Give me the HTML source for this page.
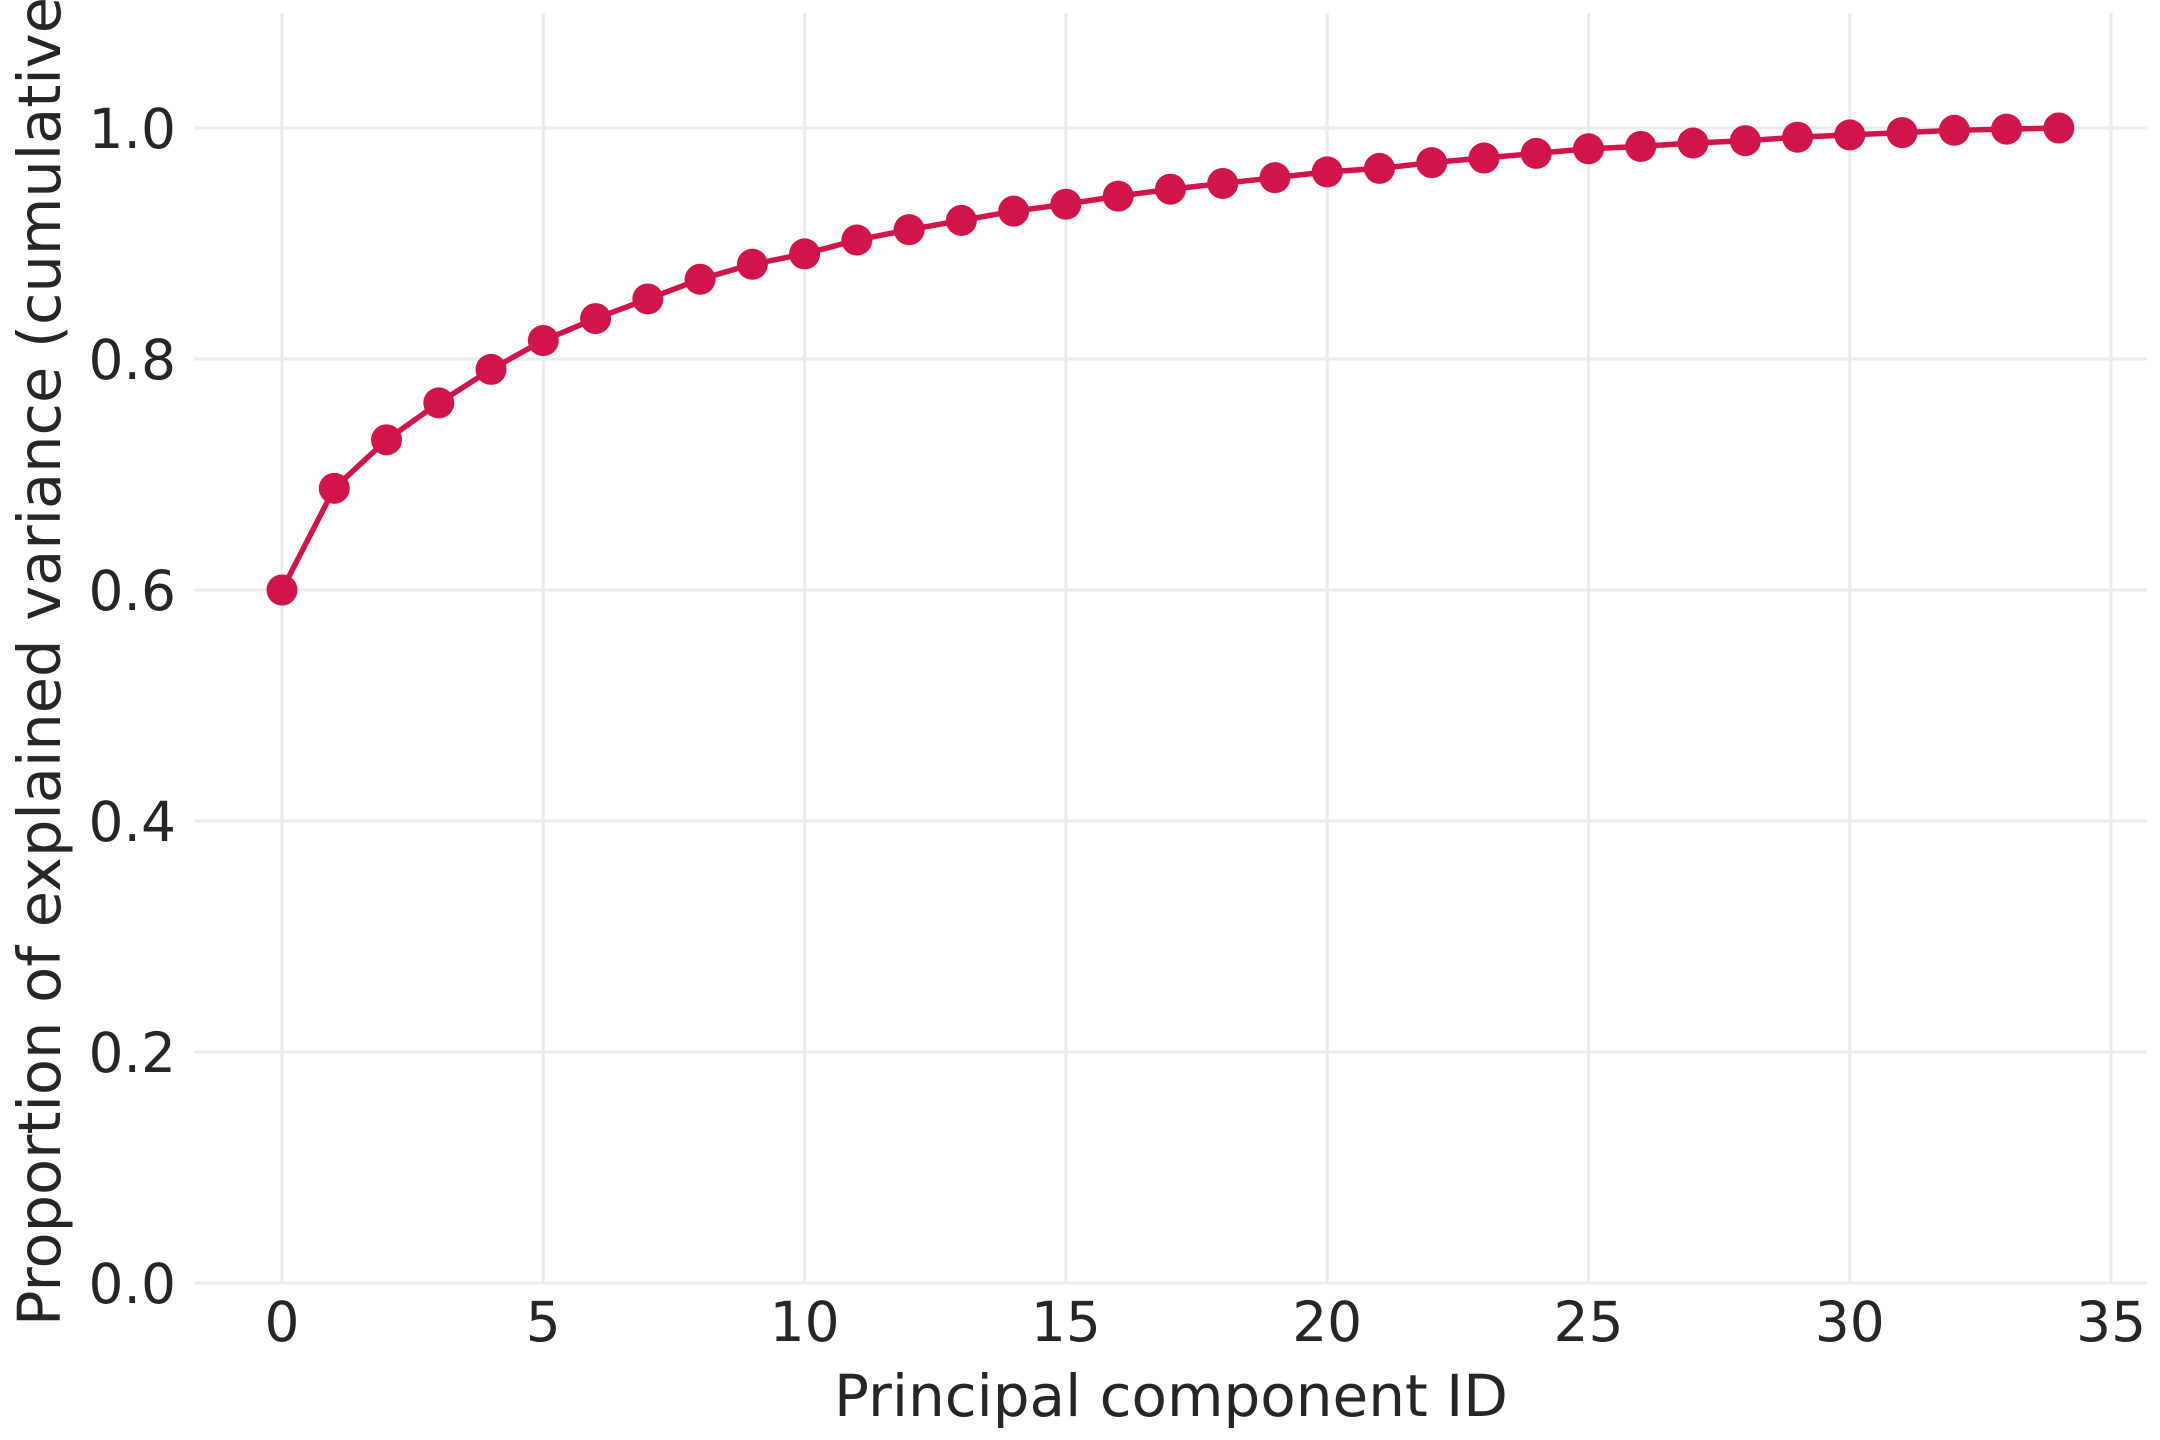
<!DOCTYPE html>
<html><head><meta charset="utf-8"><style>
html,body{margin:0;padding:0;background:#fff}
svg{display:block}
text{font-family:"DejaVu Sans","Liberation Sans",sans-serif;fill:#262626}
</style></head><body>
<svg id="chart" width="2160" height="1440" viewBox="0 0 2160 1440" xmlns="http://www.w3.org/2000/svg">
<g id="grid"></g>
<g id="ticks"></g>
<g id="series"></g>
<text x="1171" y="1416" font-size="58" text-anchor="middle">Principal component ID</text>
<text transform="translate(60,650) rotate(-90)" font-size="59" text-anchor="middle">Proportion of explained variance (cumulative)</text>
</svg>
<script>
const componentIds = [0,1,2,3,4,5,6,7,8,9,10,11,12,13,14,15,16,17,18,19,20,21,22,23,24,25,26,27,28,29,30,31,32,33,34];
const cumulativeVariance = [0.600,0.688,0.730,0.762,0.791,0.816,0.835,0.852,0.869,0.882,0.891,0.903,0.912,0.920,0.928,0.934,0.941,0.947,0.952,0.957,0.962,0.965,0.970,0.974,0.978,0.982,0.984,0.987,0.989,0.992,0.994,0.996,0.998,0.999,1.000];
const xTicks = [0,5,10,15,20,25,30,35];
const yTicks = [0.0,0.2,0.4,0.6,0.8,1.0];
const yTickLabels = ["0.0","0.2","0.4","0.6","0.8","1.0"];

const NS = "http://www.w3.org/2000/svg";
const X0 = 282, XU = 52.26;
const Y0 = 1283, YU = 1155;
const xs = v => X0 + v * XU;
const ys = v => Y0 - v * YU;
const plotL = 194, plotR = 2147, plotT = 13, plotB = 1283;

function mk(tag, attrs, parent){
  const e = document.createElementNS(NS, tag);
  for (const k in attrs) e.setAttribute(k, attrs[k]);
  parent.appendChild(e);
  return e;
}
const grid = document.getElementById('grid');
const ticks = document.getElementById('ticks');
const series = document.getElementById('series');

xTicks.forEach(t => {
  const l = mk('line', {x1: xs(t), x2: xs(t), y1: plotT, y2: plotB, stroke: '#ebebeb', 'stroke-width': 3}, grid);
  
  
  const tx = mk('text', {x: xs(t), y: 1341, 'font-size': 55, 'text-anchor': 'middle'}, ticks);
  
  
  tx.textContent = String(t);
});
yTicks.forEach((t, i) => {
  const l = mk('line', {x1: plotL, x2: plotR, y1: ys(t), y2: ys(t), stroke: '#ebebeb', 'stroke-width': 3}, grid);
  
  
  const tx = mk('text', {x: 176, y: ys(t) + 20, 'font-size': 55, 'text-anchor': 'end'}, ticks);
  
  
  tx.textContent = yTickLabels[i];
});

const pts = componentIds.map((c, i) => xs(c) + ',' + ys(cumulativeVariance[i])).join(' ');
const line = mk('polyline', {points: pts, fill: 'none', stroke: '#d1144a', 'stroke-width': 5.5, 'stroke-linejoin': 'round'}, series);


componentIds.forEach((c, i) => {
  const p = mk('circle', {cx: xs(c), cy: ys(cumulativeVariance[i]), r: 15.5, fill: '#d1144a'}, series);
  
  
});
</script>
</body></html>
